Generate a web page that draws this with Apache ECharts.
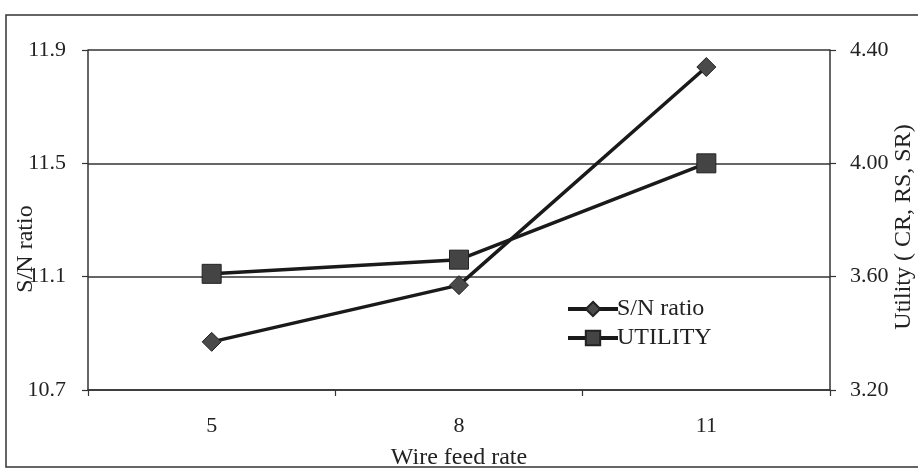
<!DOCTYPE html>
<html>
<head>
<meta charset="utf-8">
<script src="https://cdn.jsdelivr.net/npm/echarts@6/dist/echarts.min.js"></script>
<style>
  html, body { margin: 0; padding: 0; background: #ffffff; }
  #chart { width: 918px; height: 476px; }
</style>
</head>
<body>
<div id="chart"></div>
<script>
// Wire feed rate levels
const categories = ['5', '8', '11'];
// Mean S/N ratio at each level (left axis)
const snRatio = [10.87, 11.07, 11.84];
// Utility index (CR, RS, SR) at each level (right axis)
const utility = [3.61, 3.66, 4.00];
// Axis titles
const leftTitle = 'S/N ratio';
const rightTitle = 'Utility ( CR, RS, SR)';

const FONT = '"Liberation Serif", "Times New Roman", serif';
const INK = '#222222';

const chart = echarts.init(document.getElementById('chart'), null, { renderer: 'canvas' });

// Vertical axis title, reading bottom to top
function sideTitle(text, x, y) {
  return {
    type: 'text',
    x: x, y: y,
    rotation: Math.PI / 2,
    silent: true,
    style: {
      text: text,
      font: '24px ' + FONT,
      fill: INK,
      align: 'center',
      verticalAlign: 'middle'
    }
  };
}

chart.setOption({
  backgroundColor: '#ffffff',
  animation: false,
  graphic: [{
    type: 'rect',
    shape: { x: 6, y: 15, width: 960, height: 452 },
    style: { fill: 'none', stroke: '#333333', lineWidth: 1.5 },
    silent: true
  },
  sideTitle(leftTitle, 26, 249),
  sideTitle(rightTitle, 904, 227)],
  grid: { left: 88, right: 88, top: 50, bottom: 86, containLabel: false, outerBoundsMode: 'none' },
  legend: {
    orient: 'vertical',
    left: 561,
    top: 292,
    itemWidth: 50,
    itemHeight: 18,
    itemGap: 5,
    lineStyle: { width: 4 },
    textStyle: { fontFamily: FONT, fontSize: 24, color: INK, padding: [0, 0, 0, -6] },
    data: ['S/N ratio', 'UTILITY']
  },
  xAxis: {
    type: 'category',
    data: categories,
    boundaryGap: true,
    name: 'Wire feed rate',
    nameLocation: 'middle',
    nameGap: 56,
    nameTextStyle: { fontFamily: FONT, fontSize: 24, color: INK },
    axisLine: { lineStyle: { color: '#333333', width: 1.5 } },
    axisTick: { show: true, length: 6, lineStyle: { color: '#333333', width: 1.2 } },
    axisLabel: { fontFamily: FONT, fontSize: 22, color: INK, margin: 25 },
    splitLine: { show: false }
  },
  yAxis: [{
    type: 'value',
    position: 'left',
    min: 10.7,
    max: 11.9,
    interval: 0.4,
    axisLine: { show: true, lineStyle: { color: '#333333', width: 1.5 } },
    axisTick: { show: true, length: 6, lineStyle: { color: '#333333', width: 1.2 } },
    axisLabel: {
      fontFamily: FONT, fontSize: 22, color: INK, margin: 22,
      formatter: v => v.toFixed(1)
    },
    splitLine: { show: true, lineStyle: { color: '#333333', width: 1.5 } }
  }, {
    type: 'value',
    position: 'right',
    min: 3.2,
    max: 4.4,
    interval: 0.4,
    axisLine: { show: true, lineStyle: { color: '#333333', width: 1.5 } },
    axisTick: { show: true, length: 6, lineStyle: { color: '#333333', width: 1.2 } },
    axisLabel: {
      fontFamily: FONT, fontSize: 22, color: INK, margin: 20,
      formatter: v => v.toFixed(2)
    },
    splitLine: { show: false }
  }],
  series: [{
    name: 'S/N ratio',
    type: 'line',
    yAxisIndex: 0,
    data: snRatio,
    symbol: 'diamond',
    symbolSize: 19,
    lineStyle: { color: '#1a1a1a', width: 3.5 },
    itemStyle: { color: '#4a4a4a', borderColor: '#222222', borderWidth: 1 }
  }, {
    name: 'UTILITY',
    type: 'line',
    yAxisIndex: 1,
    data: utility,
    symbol: 'rect',
    symbolSize: 19,
    lineStyle: { color: '#1a1a1a', width: 3.5 },
    itemStyle: { color: '#444444', borderColor: '#222222', borderWidth: 1 }
  }]
});
</script>
</body>
</html>
